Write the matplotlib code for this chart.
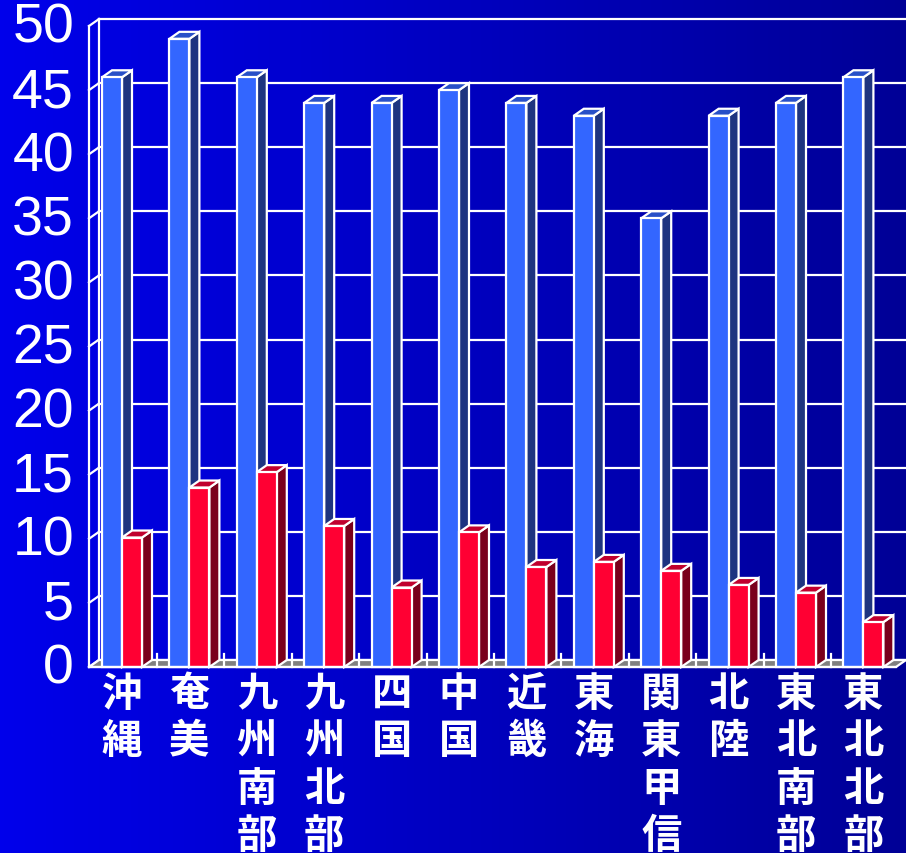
import matplotlib.pyplot as plt
import numpy as np
from matplotlib.patches import Polygon, Rectangle

# data
regions = ["沖縄", "奄美", "九州南部", "九州北部", "四国", "中国",
           "近畿", "東海", "関東甲信", "北陸", "東北南部", "東北北部"]
blue_vals = [46, 49, 46, 44, 44, 45, 44, 43, 35, 43, 44, 46]
red_vals = [10.1, 14.0, 15.2, 11.0, 6.2, 10.5, 7.8, 8.2, 7.5, 6.4, 5.8, 3.5]
y_ticks = list(range(0, 51, 5))

# layout (px -> data units)
W, H = 906, 854
px_cat = 67.4      # px per category
cat0 = 122.0       # px of first category centre
px_unit = 12.82    # px per value unit
base_px = 668.0    # px of value 0 on the front plane

ddx = 10 / px_cat
ddy = 7 / px_unit
w = 20 / px_cat
x_front = (89 - cat0) / px_cat
x_end = (896 - cat0) / px_cat

fig = plt.figure(figsize=(W / 100, H / 100), dpi=100)
ax = fig.add_axes([0, 0, 1, 1])
xl = (-cat0 / px_cat, (W - cat0) / px_cat)
yl = (-(H - base_px) / px_unit, base_px / px_unit)
ax.set_xlim(*xl)
ax.set_ylim(*yl)
ax.axis("off")

# background gradient
grad = np.linspace(0, 1, 256).reshape(1, -1)
c0 = np.array([0, 0, 235]) / 255
c1 = np.array([0, 0, 150]) / 255
img = c0 + (c1 - c0) * grad[..., None]
ax.imshow(img, extent=[xl[0], xl[1], yl[0], yl[1]], aspect="auto", zorder=0)

lw = 1.6
white = "white"

# back wall gridlines
for v in y_ticks:
    ax.plot([x_front + ddx, xl[1]], [v + ddy, v + ddy], color=white, lw=lw, zorder=1)
    ax.plot([x_front, x_front + ddx], [v, v + ddy], color=white, lw=lw, zorder=1)
ax.plot([x_front + ddx, x_front + ddx], [ddy, 50 + ddy], color=white, lw=lw, zorder=1)

# floor
floor = Polygon([(x_front, 0), (x_end, 0), (x_end + ddx, ddy), (x_front + ddx, ddy)],
                closed=True, facecolor="#808080", edgecolor=white, lw=lw, zorder=2)
ax.add_patch(floor)
for i in range(len(regions) + 1):
    b = i - 0.5
    if x_front < b < x_end:
        ax.plot([b + 0.02, b + 0.02], [0, 1.0], color=white, lw=lw, zorder=2)


def draw_bar(x0, v, front, top, side, z):
    x1 = x0 + w
    ax.add_patch(Polygon([(x1, 0), (x1 + ddx, ddy), (x1 + ddx, v + ddy), (x1, v)],
                         closed=True, facecolor=side, edgecolor=white, lw=lw, zorder=z))
    ax.add_patch(Polygon([(x0, v), (x1, v), (x1 + ddx, v + ddy), (x0 + ddx, v + ddy)],
                         closed=True, facecolor=top, edgecolor=white, lw=lw, zorder=z))
    ax.add_patch(Rectangle((x0, 0), w, v, facecolor=front, edgecolor=white, lw=lw, zorder=z))


for i, (b, r) in enumerate(zip(blue_vals, red_vals)):
    draw_bar(i - w, b, "#3366FF", "#2850C8", "#1E3480", 3 + 2 * i)
    draw_bar(i, r, "#FF0033", "#C0002E", "#7A001C", 4 + 2 * i)

# front axis line
ax.plot([x_front, x_front], [0, 50], color=white, lw=lw, zorder=40)
ax.plot([x_front, x_end], [0, 0], color=white, lw=lw, zorder=40)

# y labels
for v in y_ticks:
    ax.text((74 - cat0) / px_cat, v - 0.15, str(v), ha="right", va="center",
            color=white, fontsize=40, family="Liberation Sans", zorder=41)

# category labels (vertical)
for i, name in enumerate(regions):
    ax.text(i, -0.45, "\n".join(name), ha="center", va="top", color=white,
            fontsize=29, fontweight="bold", linespacing=1.2,
            family=["Noto Sans CJK JP", "DejaVu Sans"], zorder=41)

fig.savefig("out.png", dpi=100)
